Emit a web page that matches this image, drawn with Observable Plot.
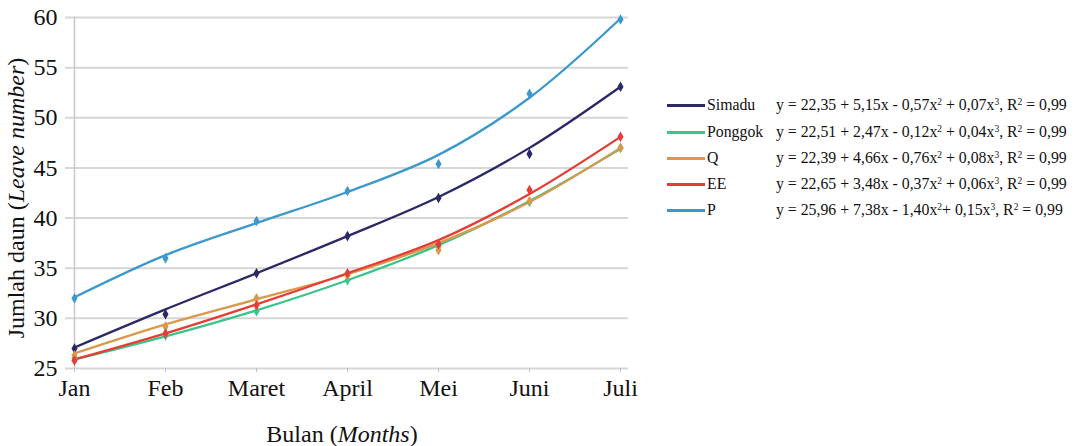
<!DOCTYPE html>
<html>
<head>
<meta charset="utf-8">
<script src="https://cdn.jsdelivr.net/npm/d3@7"></script>
<script src="https://cdn.jsdelivr.net/npm/@observablehq/plot@0.6"></script>
<style>
  html, body { margin: 0; padding: 0; background: #fff; }
  #wrap { position: relative; width: 1076px; height: 446px; font-family: "Liberation Serif", "Times New Roman", Times, "DejaVu Serif", serif; }
  #legend { position: absolute; left: 667px; top: 0; }
  .row { position: absolute; left: 0; display: flex; align-items: center; white-space: nowrap; font-size: 15.8px; color: #111; height: 20px; }
  .sw { width: 38px; height: 3px; margin-right: 2px; }
  .lab { min-width: 67px; padding-right: 2px; }
  sup { font-size: 0.6em; line-height: 0; vertical-align: 0.55em; }
  svg text { font-family: "Liberation Serif", "Times New Roman", Times, "DejaVu Serif", serif; }
</style>
</head>
<body>
<div id="wrap"><div id="chart"></div><div id="legend"></div></div>
<script>
const months = ["Jan", "Feb", "Maret", "April", "Mei", "Juni", "Juli"];
const seriesNames = ["Simadu", "Ponggok", "Q", "EE", "P"];
const seriesColors = ["#2a2866", "#3cc48a", "#d9994a", "#e33d35", "#3c98cd"];
const yTicks = [25, 30, 35, 40, 45, 50, 55, 60];

// observed values (markers)
const simaduObs = [27.0, 30.4, 34.5, 38.2, 42.0, 46.4, 53.1];
const ponggokObs = [26.0, 28.3, 30.7, 33.8, 37.2, 41.6, 47.0];
const qObs = [26.3, 29.2, 32.0, 34.3, 36.8, 41.7, 47.0];
const eeObs = [25.8, 28.5, 31.3, 34.5, 37.4, 42.8, 48.1];
const pObs = [32.0, 36.0, 39.7, 42.7, 45.4, 52.4, 59.8];

// trend line values
const simaduFit = [27.1, 30.9, 34.5, 38.2, 42.1, 47.0, 53.1];
const ponggokFit = [25.9, 28.2, 30.8, 33.8, 37.3, 41.7, 46.9];
const qFit = [26.5, 29.4, 31.9, 34.4, 37.5, 41.6, 47.0];
const eeFit = [25.9, 28.5, 31.4, 34.5, 37.8, 42.4, 48.1];
const pFit = [32.1, 36.3, 39.5, 42.6, 46.3, 52.0, 59.9];

const equations = [
  "y = 22,35 + 5,15x - 0,57x<sup>2</sup> + 0,07x<sup>3</sup>, R<sup>2</sup> = 0,99",
  "y = 22,51 + 2,47x - 0,12x<sup>2</sup> + 0,04x<sup>3</sup>, R<sup>2</sup> = 0,99",
  "y = 22,39 + 4,66x - 0,76x<sup>2</sup> + 0,08x<sup>3</sup>, R<sup>2</sup> = 0,99",
  "y = 22,65 + 3,48x - 0,37x<sup>2</sup> + 0,06x<sup>3</sup>, R<sup>2</sup> = 0,99",
  "y = 25,96 + 7,38x - 1,40x<sup>2</sup>+ 0,15x<sup>3</sup>, R<sup>2</sup> = 0,99"
];

const obsSets = [simaduObs, ponggokObs, qObs, eeObs, pObs];
const fitSets = [simaduFit, ponggokFit, qFit, eeFit, pFit];
const drawOrder = ["P", "Simadu", "Ponggok", "Q", "EE"];

const fitRows = [], obsRows = [];
drawOrder.forEach(name => {
  const i = seriesNames.indexOf(name);
  months.forEach((m, j) => {
    fitRows.push({series: name, month: m, value: fitSets[i][j], color: seriesColors[i]});
    obsRows.push({series: name, month: m, value: obsSets[i][j], color: seriesColors[i]});
  });
});

const font = "'Liberation Serif', 'Times New Roman', Times, 'DejaVu Serif', serif";
const chart = Plot.plot({
  width: 1076,
  height: 446,
  marginLeft: 65,
  marginRight: 448,
  marginTop: 17,
  marginBottom: 78,
  style: {fontFamily: font, fontSize: "24px", background: "#fff", color: "#111"},
  x: {type: "point", domain: months, padding: 0.06, label: null},
  y: {domain: [25, 60], label: null},
  marks: [
    Plot.gridY(yTicks, {stroke: "#d6d6d6", strokeOpacity: 1, strokeWidth: 2}),
    Plot.ruleX([months[0]], {y1: 25, y2: 60, stroke: "#c8c8c8", strokeWidth: 1.5}),
    Plot.axisX({tickSize: 4, tickPadding: 6, stroke: "#c0c0c0", fontSize: 24, fill: "#111", label: null}),
    Plot.axisY({ticks: yTicks, tickSize: 0, tickPadding: 8, fontSize: 24, fill: "#111", label: null}),
    Plot.line(fitRows, {x: "month", y: "value", z: "series", stroke: "color", strokeWidth: 2.3, curve: "catmull-rom"}),
    Plot.dot(obsRows, {x: "month", y: "value", fill: "color", symbol: "diamond", r: 3.2})
  ]
});
document.getElementById("chart").appendChild(chart);

const svg = d3.select(chart);
const yt = svg.append("text")
  .attr("transform", "translate(24,198) rotate(-90)")
  .attr("text-anchor", "middle")
  .attr("font-size", 24).attr("fill", "#111");
yt.append("tspan").text("Jumlah daun (");
yt.append("tspan").attr("font-style", "italic").text("Leave number");
yt.append("tspan").text(")");

const xt = svg.append("text")
  .attr("x", 342).attr("y", 442)
  .attr("text-anchor", "middle")
  .attr("font-size", 24).attr("fill", "#111");
xt.append("tspan").text("Bulan (");
xt.append("tspan").attr("font-style", "italic").text("Months");
xt.append("tspan").text(")");

const legend = document.getElementById("legend");
const rowCenters = [105, 132, 158, 184, 210];
seriesNames.forEach((name, i) => {
  const row = document.createElement("div");
  row.className = "row";
  row.style.top = (rowCenters[i] - 10) + "px";
  row.innerHTML = `<div class="sw" style="background:${seriesColors[i]}"></div><span class="lab">${name}</span><span>${equations[i]}</span>`;
  legend.appendChild(row);
});
</script>
</body>
</html>
